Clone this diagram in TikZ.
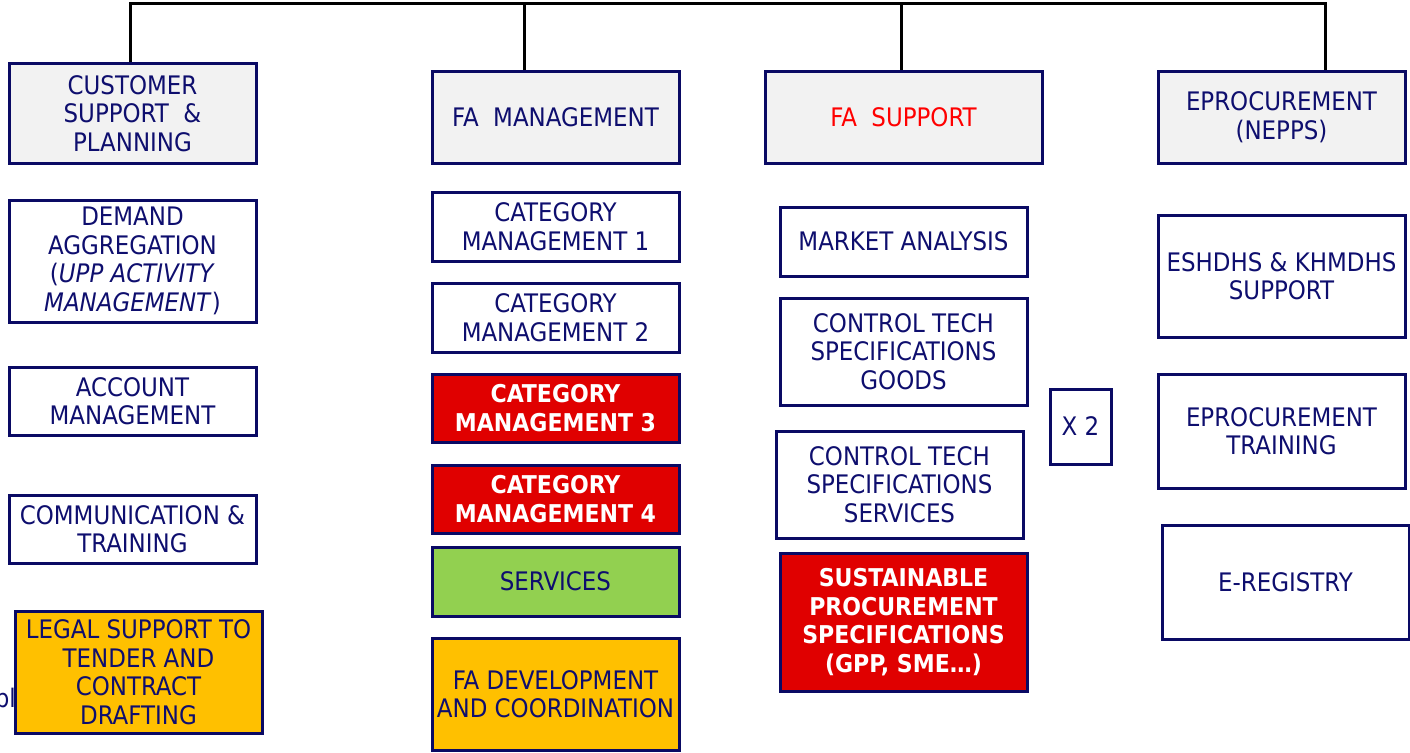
\documentclass[tikz,border=0pt]{standalone}
\usepackage{fontspec}
\setmainfont{DejaVu Sans Condensed}
\begin{document}
\definecolor{navy}{RGB}{14,14,110}
\definecolor{bordc}{RGB}{10,10,100}
\definecolor{lgray}{RGB}{242,242,242}
\definecolor{bred}{RGB}{224,0,0}
\definecolor{bgreen}{RGB}{146,208,80}
\definecolor{borange}{RGB}{255,192,0}
\begin{tikzpicture}[x=1pt,y=-1pt,
  box/.style={draw=bordc,line width=3pt,align=center,text=navy,inner sep=0pt,
    font=\fontsize{25.5}{28.5}\selectfont},
  hdr/.style={box,fill=lgray},
  redbox/.style={box,fill=bred,text=white,font=\fontsize{24.5}{28.5}\selectfont\bfseries},
  greenbox/.style={box,fill=bgreen},
  orangebox/.style={box,fill=borange},
  wire/.style={draw=black,line width=3pt}]
\useasboundingbox (0,0) rectangle (1410,752);
\newcommand\bx[6]{\node[#6,minimum width={#4-#2},minimum height={#5-#3}] (#1) at ({(#2+#4)/2},{(#3+#5)/2})}
% column 1
\bx{cust}{9}{64}{256}{163}{hdr}{CUSTOMER\\SUPPORT~~\&\\PLANNING};
\bx{dem}{9}{200}{256}{322}{box}{DEMAND\\AGGREGATION\\(\textit{UPP ACTIVITY}\\\textit{MANAGEMENT})};
\bx{acc}{9}{367}{256}{435}{box}{ACCOUNT\\MANAGEMENT};
\bx{com}{9}{495}{256}{563}{box}{COMMUNICATION \&\\TRAINING};
\node[text=navy,font=\fontsize{25.5}{28.5}\selectfont,anchor=east,inner sep=0pt] (bl) at (16,698) {bl};
\bx{leg}{15}{611}{262}{733}{orangebox}{LEGAL SUPPORT TO\\TENDER AND\\CONTRACT\\DRAFTING};
% column 2
\bx{fam}{432}{71}{679}{163}{hdr}{FA~~MANAGEMENT};
\bx{cm1}{432}{192}{679}{261}{box}{CATEGORY\\MANAGEMENT 1};
\bx{cm2}{432}{283}{679}{352}{box}{CATEGORY\\MANAGEMENT 2};
\bx{cm3}{432}{374}{679}{442}{redbox}{CATEGORY\\MANAGEMENT 3};
\bx{cm4}{432}{465}{679}{533}{redbox}{CATEGORY\\MANAGEMENT 4};
\bx{srv}{432}{547}{679}{616}{greenbox}{SERVICES};
\bx{fad}{432}{638}{679}{750}{orangebox}{FA DEVELOPMENT\\AND COORDINATION};
% column 3
\bx{fas}{765}{71}{1042}{163}{hdr,text=red}{FA~~SUPPORT};
\bx{mka}{780}{207}{1027}{276}{box}{MARKET ANALYSIS};
\bx{ctg}{780}{298}{1027}{405}{box}{CONTROL TECH\\SPECIFICATIONS\\GOODS};
\bx{cts}{776}{431}{1023}{538}{box}{CONTROL TECH\\SPECIFICATIONS\\SERVICES};
\bx{sus}{780}{553}{1027}{691}{redbox}{SUSTAINABLE\\PROCUREMENT\\SPECIFICATIONS\\(GPP, SME…)};
\bx{x2}{1050}{389}{1111}{464}{box}{X 2};
% column 4
\bx{epr}{1158}{71}{1405}{163}{hdr}{EPROCUREMENT\\(NEPPS)};
\bx{esh}{1158}{215}{1405}{337}{box}{ESHDHS \& KHMDHS\\SUPPORT};
\bx{ept}{1158}{374}{1405}{488}{box}{EPROCUREMENT\\TRAINING};
\bx{ereg}{1162}{525}{1409}{639}{box}{E-REGISTRY};
% connectors
\coordinate (j1) at (130,4);
\coordinate (j2) at (524,4);
\coordinate (j3) at (901,4);
\coordinate (j4) at (1325,4);
\draw[wire] (j1 |- cust.north) -- (j1) -- (j4) -- (j4 |- epr.north);
\draw[wire] (j2) -- (j2 |- fam.north);
\draw[wire] (j3) -- (j3 |- fas.north);
\end{tikzpicture}
\end{document}
